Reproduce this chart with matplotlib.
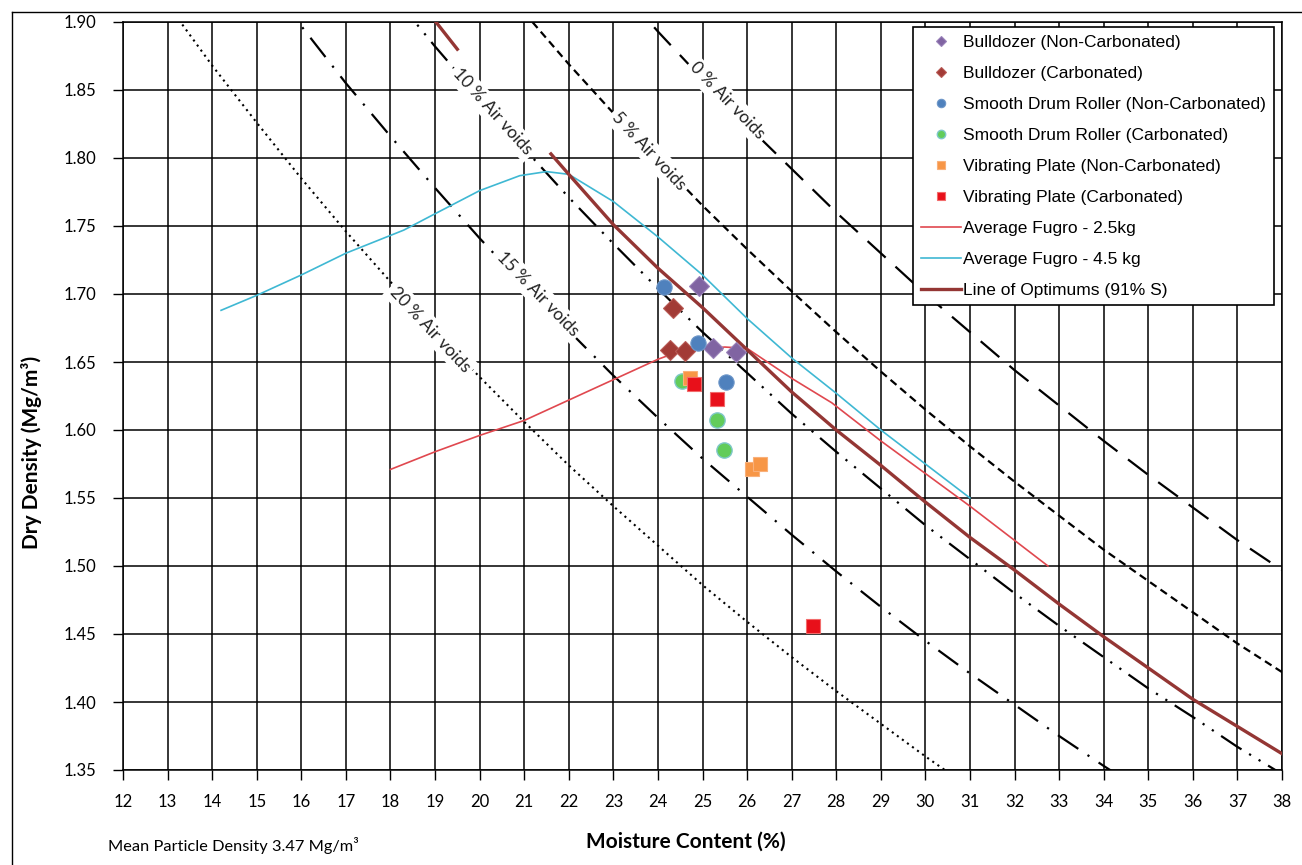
import matplotlib
matplotlib.use('Agg')
import matplotlib.pyplot as plt
import numpy as np
from matplotlib.lines import Line2D

plt.rcParams['font.family'] = ['Lato', 'DejaVu Sans']

# ---------------- data ----------------
# Zero / air-void lines (moisture %, dry density Mg/m3)
av0_x = [23, 24, 25, 26, 27, 28, 29, 30, 31, 32, 33, 34, 35, 36, 37, 38]
av0_y = [1.930, 1.893, 1.858, 1.824, 1.792, 1.760, 1.730, 1.700, 1.672, 1.644,
         1.618, 1.592, 1.567, 1.543, 1.519, 1.497]
av5_x = [21, 22, 23, 24, 25, 26, 27, 28, 29, 30, 31, 32, 33, 34, 35, 36, 37, 38]
av5_y = [1.907, 1.869, 1.833, 1.799, 1.765, 1.733, 1.702, 1.672, 1.643, 1.615,
         1.588, 1.562, 1.537, 1.512, 1.489, 1.466, 1.443, 1.422]
av10_x = [18, 19, 20, 21, 22, 23, 24, 25, 26, 27, 28, 29, 30, 31, 32, 33, 34, 35, 36, 37, 38]
av10_y = [1.922, 1.882, 1.844, 1.807, 1.771, 1.737, 1.704, 1.672, 1.642, 1.612,
          1.584, 1.557, 1.530, 1.505, 1.480, 1.456, 1.433, 1.410, 1.389, 1.367, 1.347]
av15_x = [15, 16, 17, 18, 19, 20, 21, 22, 23, 24, 25, 26, 27, 28, 29, 30, 31, 32, 33, 34, 35]
av15_y = [1.940, 1.897, 1.855, 1.816, 1.778, 1.741, 1.706, 1.673, 1.640, 1.609,
          1.579, 1.551, 1.523, 1.496, 1.470, 1.445, 1.421, 1.398, 1.375, 1.353, 1.332]
av20_x = [13, 14, 15, 16, 17, 18, 19, 20, 21, 22, 23, 24, 25, 26, 27, 28, 29, 30, 31]
av20_y = [1.913, 1.868, 1.826, 1.785, 1.746, 1.709, 1.673, 1.639, 1.606, 1.574,
          1.544, 1.515, 1.486, 1.459, 1.433, 1.408, 1.384, 1.360, 1.337]

# Field compaction results
bd_nc_x = [24.93, 25.23, 25.75]
bd_nc_y = [1.706, 1.660, 1.657]
bd_c_x = [24.33, 24.26, 24.61]
bd_c_y = [1.690, 1.659, 1.658]
sdr_nc_x = [24.14, 24.91, 25.53]
sdr_nc_y = [1.705, 1.664, 1.635]
sdr_c_x = [24.53, 25.33, 25.48]
sdr_c_y = [1.636, 1.607, 1.585]
vp_nc_x = [24.72, 26.11, 26.29]
vp_nc_y = [1.638, 1.571, 1.575]
vp_c_x = [24.81, 25.33, 27.49]
vp_c_y = [1.634, 1.623, 1.456]

# Laboratory curves
f25_x = [18.0, 19.0, 20.0, 21.0, 22.0, 23.0, 24.0, 24.5, 25.5, 26.0, 27.0, 27.9, 29.0, 30.0, 31.0, 32.75]
f25_y = [1.571, 1.584, 1.596, 1.607, 1.622, 1.637, 1.652, 1.658, 1.661, 1.660, 1.638, 1.620,
         1.592, 1.568, 1.544, 1.500]
f45_x = [14.2, 15.0, 16.0, 17.0, 18.3, 19.0, 20.0, 20.9, 21.5, 22.0, 23.0, 24.0, 25.0,
         26.0, 27.0, 28.0, 29.0, 30.0, 31.0]
f45_y = [1.688, 1.699, 1.714, 1.730, 1.747, 1.759, 1.776, 1.787, 1.790, 1.788, 1.768,
         1.742, 1.714, 1.682, 1.653, 1.627, 1.600, 1.575, 1.550]
opt_x = [18.9, 19.5, np.nan, 21.6, 22.0, 23.0, 24.0, 25.0, 26.0, 27.0, 28.0, 29.0, 30.0,
         31.0, 32.0, 33.0, 34.0, 35.0, 36.0, 37.0, 38.0]
opt_y = [1.905, 1.880, np.nan, 1.803, 1.788, 1.751, 1.719, 1.690, 1.659, 1.628, 1.600, 1.574,
         1.547, 1.521, 1.497, 1.472, 1.448, 1.425, 1.402, 1.382, 1.362]

x_ticks = list(range(12, 39))
y_ticks = [1.35, 1.40, 1.45, 1.50, 1.55, 1.60, 1.65, 1.70, 1.75, 1.80, 1.85, 1.90]

# ---------------- figure ----------------
W, H = 1302, 865
fig = plt.figure(figsize=(W / 100, H / 100), dpi=100)
fx = lambda px: px / W
fy = lambda py: 1 - py / H
ax = fig.add_axes([fx(123), fy(770), (1282 - 123) / W, (770 - 22) / H])

ax.set_xlim(12, 38)
ax.set_ylim(1.35, 1.90)
ax.set_xticks(x_ticks)
ax.set_xticklabels([str(t) for t in x_ticks])
ax.set_yticks(y_ticks)
ax.set_yticklabels(['%.2f' % t for t in y_ticks])
ax.grid(True, color='black', lw=1.1)
ax.set_axisbelow(True)
for s in ax.spines.values():
    s.set_color('black')
    s.set_linewidth(1.1)
ax.tick_params(axis='both', direction='out', length=7, width=1.0, labelsize=12, colors='black')
ax.tick_params(axis='x', pad=10)
ax.tick_params(axis='y', pad=12)

lw_av = 1.6
ax.plot(av0_x, av0_y, color='black', lw=lw_av, ls=(0, (11, 6)), zorder=2)
ax.plot(av5_x, av5_y, color='black', lw=lw_av, ls=(0, (3.5, 2.2)), zorder=2)
ax.plot(av10_x, av10_y, color='black', lw=lw_av, ls=(0, (11, 4, 1, 4, 1, 4)), zorder=2)
ax.plot(av15_x, av15_y, color='black', lw=lw_av, ls=(0, (11, 5, 1, 5)), zorder=2)
ax.plot(av20_x, av20_y, color='black', lw=1.5, ls=(0, (1, 2)), zorder=2)

l25, = ax.plot(f25_x, f25_y, color='#e0484f', lw=1.2, zorder=3, label='Average Fugro - 2.5kg')
l45, = ax.plot(f45_x, f45_y, color='#3fb8d3', lw=1.2, zorder=3, label='Average Fugro - 4.5 kg')
lopt, = ax.plot(opt_x, opt_y, color='#943634', lw=2.4, zorder=3, label='Line of Optimums (91% S)')

ms_d, ms_o, ms_s = 9.8, 11, 10
h1, = ax.plot(bd_nc_x, bd_nc_y, ls='none', marker='D', ms=ms_d, mfc='#8064a2', mec='#9a82ba', mew=0.8,
              zorder=5, label='Bulldozer (Non-Carbonated)')
h2, = ax.plot(bd_c_x, bd_c_y, ls='none', marker='D', ms=ms_d, mfc='#a23b36', mec='#b85a55', mew=0.8,
              zorder=5, label='Bulldozer (Carbonated)')
h3, = ax.plot(sdr_nc_x, sdr_nc_y, ls='none', marker='o', ms=ms_o, mfc='#4f81bd', mec='#6d96c8', mew=0.8,
              zorder=5, label='Smooth Drum Roller (Non-Carbonated)')
h4, = ax.plot(sdr_c_x, sdr_c_y, ls='none', marker='o', ms=ms_o, mfc='#62cc5a', mec='#7fc7c9', mew=1.0,
              zorder=5, label='Smooth Drum Roller (Carbonated)')
h5, = ax.plot(vp_nc_x, vp_nc_y, ls='none', marker='s', ms=ms_s, mfc='#f79646', mec='#f9b07a', mew=0.8,
              zorder=5, label='Vibrating Plate (Non-Carbonated)')
h6, = ax.plot(vp_c_x, vp_c_y, ls='none', marker='s', ms=ms_s, mfc='#e8101a', mec='#f26b6b', mew=0.8,
              zorder=5, label='Vibrating Plate (Carbonated)')

# air-void labels
lab_kw = dict(ha='center', va='center', fontsize=12.5, color='#222222', zorder=6,
              rotation_mode='anchor',
              bbox=dict(facecolor='white', edgecolor='none', pad=2.5))
ax.text(25.55, 1.842, '0 % Air voids', rotation=-46, **lab_kw)
ax.text(23.8, 1.805, '5 % Air voids', rotation=-47, **lab_kw)
ax.text(20.29, 1.834, '10 % Air voids', rotation=-48, **lab_kw)
ax.text(21.3, 1.700, '15 % Air voids', rotation=-46, **lab_kw)
ax.text(18.9, 1.674, '20 % Air voids', rotation=-47, **lab_kw)

handles = [h1, h2, h3, h4, h5, h6, l25, l45, lopt]
leg = ax.legend(handles, [h.get_label() for h in handles], loc='upper right',
                bbox_to_anchor=(fx(1274), fy(27)), bbox_transform=fig.transFigure,
                borderaxespad=0, frameon=True, fancybox=False, edgecolor='black', framealpha=1,
                prop={'family': 'Liberation Sans', 'size': 12.5}, markerscale=0.55,
                handlelength=2.3, handletextpad=0.15, labelspacing=0.91, borderpad=0.45)
leg.get_frame().set_linewidth(1.2)
leg.set_zorder(10)

fig.text(fx(32), fy(452), 'Dry Density (Mg/m³)', rotation=90, ha='center', va='center',
         fontsize=15, fontweight='bold')
fig.text(fx(686), fy(842), 'Moisture Content (%)', ha='center', va='center',
         fontsize=15, fontweight='bold')
fig.text(fx(108), fy(845), 'Mean Particle Density 3.47 Mg/m³', ha='left', va='center', fontsize=11.8)

# chart-area border
fig.add_artist(Line2D([fx(12), fx(12)], [fy(12), 0], transform=fig.transFigure, color='black', lw=1.0))
fig.add_artist(Line2D([fx(12), 1], [fy(12), fy(12)], transform=fig.transFigure, color='black', lw=1.0))

fig.savefig('out.png', dpi=100)
